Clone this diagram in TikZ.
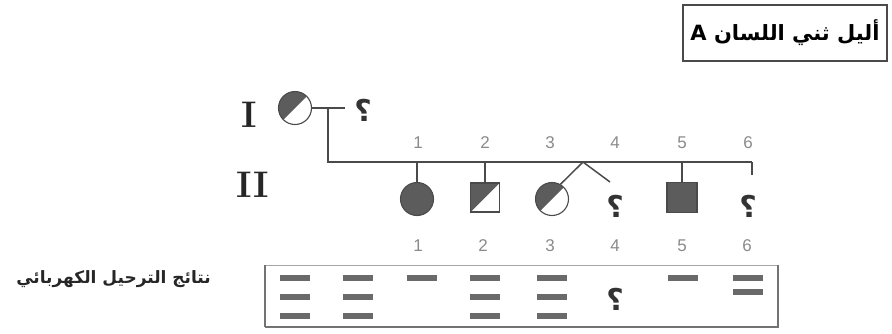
\documentclass[tikz,border=0pt]{standalone}
\usepackage{fontspec}
\newfontfamily\arabicfont[Script=Arabic]{DejaVu Sans}
\newfontfamily\digitfont{Liberation Sans}
\TeXXeTstate=1
\definecolor{ink}{HTML}{4A4A4A}
\definecolor{darkfill}{HTML}{5C5C5C}
\definecolor{numgray}{HTML}{8A8A8A}
\definecolor{bandgray}{HTML}{6A6A6A}
\tikzset{
  line/.style={draw=ink, line width=1.5pt},
  person/.style={draw=ink, line width=1.1pt, fill=white, inner sep=0pt},
  halfpaint/.style={path picture={\fill[darkfill] (path picture bounding box.north west) -- (path picture bounding box.north east) -- (path picture bounding box.south west) -- cycle;}},
  halfcirc/.style={person, circle, minimum size=33pt, halfpaint},
  fullcirc/.style={person, circle, minimum size=33pt, fill=darkfill},
  halfsq/.style={person, rectangle, minimum size=29pt, halfpaint},
  fullsq/.style={person, rectangle, minimum size=30pt, fill=darkfill},
  num/.style={text=numgray, font=\digitfont\fontsize{17}{17}\selectfont, inner sep=0pt},
  roman/.style={text=black!85, font=\bfseries\fontsize{37}{37}\selectfont, inner sep=0pt},
  qmark/.style={text=black!80, font=\arabicfont\bfseries\fontsize{30}{30}\selectfont, inner sep=0pt},
  band/.style={fill=bandgray, minimum width=30pt, minimum height=6pt, inner sep=0pt},
}
\begin{document}
\begin{tikzpicture}[x=1pt,y=1pt]
\useasboundingbox (0,0) rectangle (892,-333);

% title box
\node[draw=ink, line width=1.1pt, minimum width=204pt, minimum height=56pt, inner sep=0pt,
      font=\arabicfont\bfseries\fontsize{21}{21}\selectfont] (title) at (785,-33)
  {\beginR أليل ثني اللسان A\endR};

% generation labels
\node[roman] (genI) at (249,-115) {I};
\node[roman] (genII) at (253,-185) {II};

% generation I
\node[halfcirc] (P) at (295,-108) {};
\coordinate (mateend) at (345,-108);
\coordinate (drop) at (328,-108);
\node[qmark] (mate) at (363,-110) {\beginR ؟\endR};
\draw[line] (P.east) -- (mateend);
\coordinate (sibL) at (328,-162);
\coordinate (sibR) at (752,-162);
\draw[line] (drop) -- (sibL) -- (sibR);

% sibling numbers
\foreach \i/\x in {1/418,2/485,3/550,4/615,5/682,6/748}
  \node[num] (n\i) at (\x,-143) {\i};

% generation II
\node[fullcirc] (c1) at (417,-199) {};
\node[halfsq] (c2) at (485,-197.5) {};
\node[halfcirc] (c3) at (552,-199) {};
\node[qmark] (c4) at (615,-206) {\beginR ؟\endR};
\node[fullsq] (c5) at (682,-197.5) {};
\node[qmark] (c6) at (748,-206) {\beginR ؟\endR};

\draw[line] (c1.north |- sibL) -- (c1.north);
\draw[line] (c2.north |- sibL) -- (c2.north);
\draw[line] (c5.north |- sibL) -- (c5.north);
\coordinate (twin) at (583,-162);
\coordinate (c4top) at (610,-182);
\draw[line] (c3.60) -- (twin) -- (c4top);
\coordinate (c6top) at (752,-175);
\draw[line] (sibR) -- (c6top);

% electrophoresis
\node[anchor=east, text=black!85, font=\arabicfont\bfseries\fontsize{17}{17}\selectfont, inner sep=0pt]
  (gellabel) at (211,-279) {\beginR نتائج الترحيل الكهربائي\endR};

\foreach \i/\x in {1/418,2/483,3/550,4/615,5/682,6/747}
  \node[num] (g\i) at (\x,-246) {\i};

\coordinate (gelNW) at (265,-265);
\coordinate (gelSE) at (778,-327);
\draw[draw=black!35, line width=1pt] (gelNW) rectangle (gelSE);
\draw[draw=black!55, line width=2pt] (gelNW |- gelSE) -- (gelSE) -- (gelSE |- gelNW);
\draw[draw=black!55, line width=1.6pt] (gelNW) -- (gelNW |- gelSE);

% bands
\foreach \c/\x in {a/295,b/358,k2/485,k3/552}
  \foreach \r/\y in {1/278,2/297,3/316}
    \node[band] (b\c\r) at (\x,-\y) {};
\node[band] (bk1) at (422,-278) {};
\node[band] (bk5) at (683,-278) {};
\node[band] (bk6a) at (748,-278) {};
\node[band] (bk6b) at (748,-292) {};
\node[qmark] (bk4) at (615,-299) {\beginR ؟\endR};

\end{tikzpicture}
\end{document}
